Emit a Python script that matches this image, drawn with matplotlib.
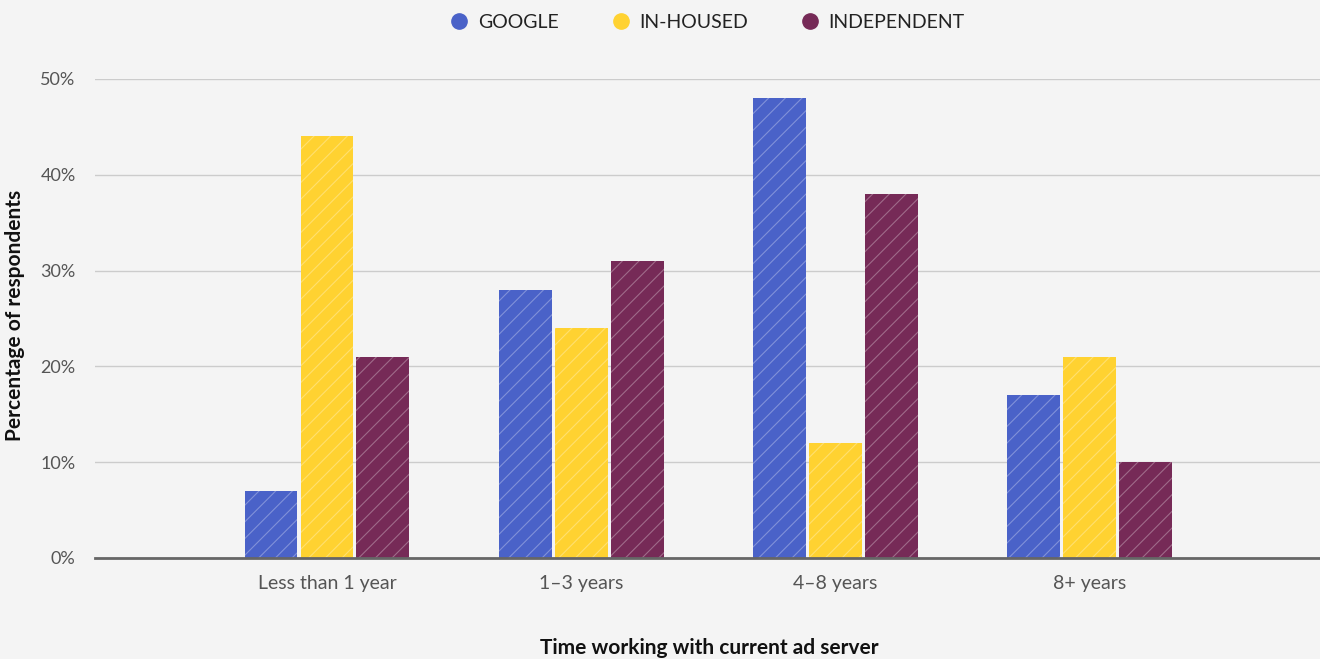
import numpy as np
import matplotlib.pyplot as plt
from matplotlib.lines import Line2D

# ====================== data ======================
categories = ["Less than 1 year", "1\u20133 years", "4\u20138 years", "8+ years"]
series_names = ["GOOGLE", "IN-HOUSED", "INDEPENDENT"]
google = [7, 28, 48, 17]
in_housed = [44, 24, 12, 21]
independent = [21, 31, 38, 10]
y_ticks = [0, 10, 20, 30, 40, 50]

colors = ["#4A62C8", "#FFD231", "#762A57"]
bg = "#F4F4F4"

plt.rcParams['font.family'] = ['Lato', 'DejaVu Sans']
plt.rcParams['hatch.linewidth'] = 0.8

fig = plt.figure(figsize=(13.2, 6.59), dpi=100, facecolor=bg)
ax = fig.add_axes([0.072, 0.1533, 0.928, 0.727], facecolor=bg)

x = np.arange(len(categories))
width = 0.208
offset = 0.22
for i, (vals, c) in enumerate(zip([google, in_housed, independent], colors)):
    ax.bar(x + (i - 1) * offset, vals, width, color=c, hatch='//',
           edgecolor=(1, 1, 1, 0.3), linewidth=0, zorder=2)

ax.set_xlim(-0.912, 3.905)
ax.set_ylim(0, 50)
ax.set_yticks(y_ticks)
ax.set_yticklabels([f"{v}%" for v in y_ticks])
ax.set_xticks(x)
ax.set_xticklabels(categories)
ax.tick_params(axis='both', length=0, colors="#555555", labelsize=13)
ax.tick_params(axis='x', labelsize=14, pad=12)
ax.tick_params(axis='y', pad=14)
ax.grid(axis='y', color="#CCCCCC", linewidth=1, zorder=0)
ax.set_axisbelow(True)
for s in ['top', 'right', 'left']:
    ax.spines[s].set_visible(False)
ax.spines['bottom'].set_color("#666666")
ax.spines['bottom'].set_linewidth(2)
ax.spines['bottom'].set_zorder(3)

# axis titles placed in figure coordinates so they stay inside the canvas
fig.text(0.0112, 0.522, "Percentage of respondents", rotation=90, fontsize=15,
         fontweight='bold', color="#111111", ha='center', va='center')
fig.text(0.537, 0.0167, "Time working with current ad server", fontsize=15,
         fontweight='bold', color="#111111", ha='center', va='center')

handles = [Line2D([], [], marker='o', linestyle='', markersize=11,
                  markerfacecolor=c, markeredgecolor=c) for c in colors]
fig.legend(handles, series_names, loc='upper center', ncol=3, frameon=False,
           bbox_to_anchor=(0.535, 1.005), fontsize=14, handletextpad=0.35,
           columnspacing=2.6, handlelength=1.2, labelcolor="#222222")

fig.savefig("out.png", dpi=100, facecolor=bg)
